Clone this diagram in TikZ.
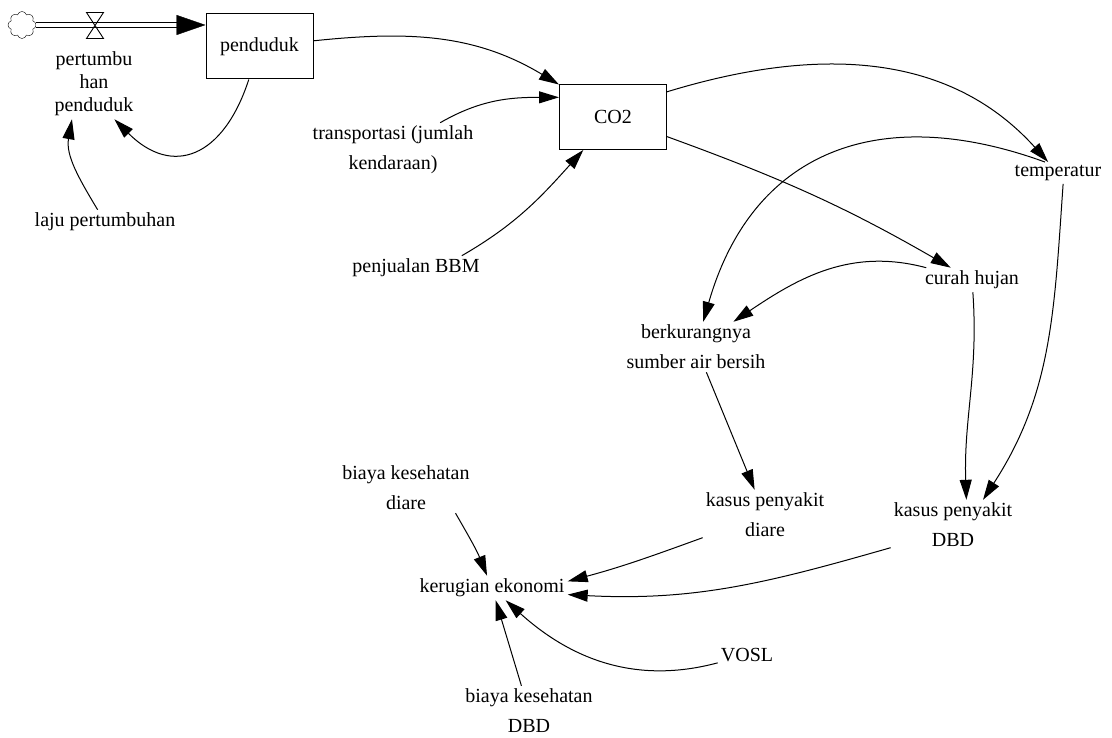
\documentclass[tikz,border=0pt]{standalone}
\usepackage{fontspec}
\setmainfont{Liberation Serif}
\usetikzlibrary{arrows.meta}
\usetikzlibrary{shapes.symbols}

\begin{document}
\begin{tikzpicture}[x=1pt,y=1pt,
    font=\rmfamily\fontsize{20}{30}\selectfont,
    stock/.style={draw,line width=1pt,minimum width=107pt,minimum height=65pt},
    var/.style={align=center,inner sep=3pt},
    link/.style={draw=black,line width=1pt,-{Triangle[length=20pt,width=12pt]}}]
        \useasboundingbox (0,0) rectangle (1112,738);
        % stocks, flow
        \begin{scope}[every node/.style={stock}]
          \node (pend) at (259.5,691.5) {penduduk};
          \node (co2) at (613,621) {CO2};
        \end{scope}
        \node[cloud,draw,cloud puffs=8,minimum width=28pt,minimum height=27pt,inner sep=0pt] (src) at (22,713) {};
        \coordinate (valve) at (95,712.5);
        \coordinate (pin) at (src -| pend.west);
        \draw[double,double distance=4.5pt,line width=0.9pt] (src.east) -- ([xshift=-20pt]pin);
        \draw[-{Triangle[length=29pt,width=20pt]}] ([xshift=-29pt]pin) -- (pin);
        \draw[line width=0.9pt] ([shift={(-8.5,13)}]valve) -- ++(17,0) -- ++(-17,-26) -- ++(17,0) -- cycle;
        % variables
        \begin{scope}[every node/.style={var}]
          \node[font=\rmfamily\fontsize{20}{23}\selectfont] (pp) at (94,654) {pertumbu\\han\\penduduk};
          \node (laju) at (105,516) {laju pertumbuhan};
          \node (trans) at (393,588) {transportasi (jumlah\\kendaraan)};
          \node (bbm) at (416,470) {penjualan BBM};
          \node (temp) at (1058,565) {temperatur};
          \node (curah) at (972,458) {curah hujan};
          \node (berk) at (696,391) {berkurangnya\\sumber air bersih};
          \node (diare) at (765,223) {kasus penyakit\\diare};
          \node (dbd) at (953,213) {kasus penyakit\\DBD};
          \node (rugi) at (492,150) {kerugian ekonomi};
          \node (bkd) at (406,250) {biaya kesehatan\\diare};
          \node (bkdbd) at (529,27) {biaya kesehatan\\DBD};
          \node (vosl) at (747,83) {VOSL};
        \end{scope}
        % links
        \begin{scope}[every edge/.style={link}]
          \path (pend) edge[out=252,in=-45,looseness=1.5] (pp.-60);
          \path (laju) edge[out=121,in=260] (pp.-122);
          \path (pend) edge[out=6,in=149] (co2);
          \path (trans) edge[out=30,in=180] (co2.160);
          \path (bbm.15) edge[out=30,in=-132] (co2);
          \path (co2.25) edge[out=17,in=132] (temp);
          \path (co2) edge[out=-20,in=150] (curah);
          \path (temp.140) edge[out=160,in=74,looseness=1.2] (berk);
          \path (curah) edge[out=165,in=34] (berk);
          \path (curah) edge[out=-86,in=92] (dbd.62);
          \path (temp.-65) edge[out=-94,in=57] (dbd.40);
          \path (berk) edge (diare);
          \path (diare.200) edge[out=200,in=15] (rugi.5);
          \path (dbd.200) edge[out=196,in=-3] (rugi.-5);
          \path (bkd.-27) edge[out=-60,in=112] (rugi);
          \path (bkdbd) edge (rugi);
          \path (vosl) edge[out=195,in=-42] (rugi);
        \end{scope}
\end{tikzpicture}
\end{document}
